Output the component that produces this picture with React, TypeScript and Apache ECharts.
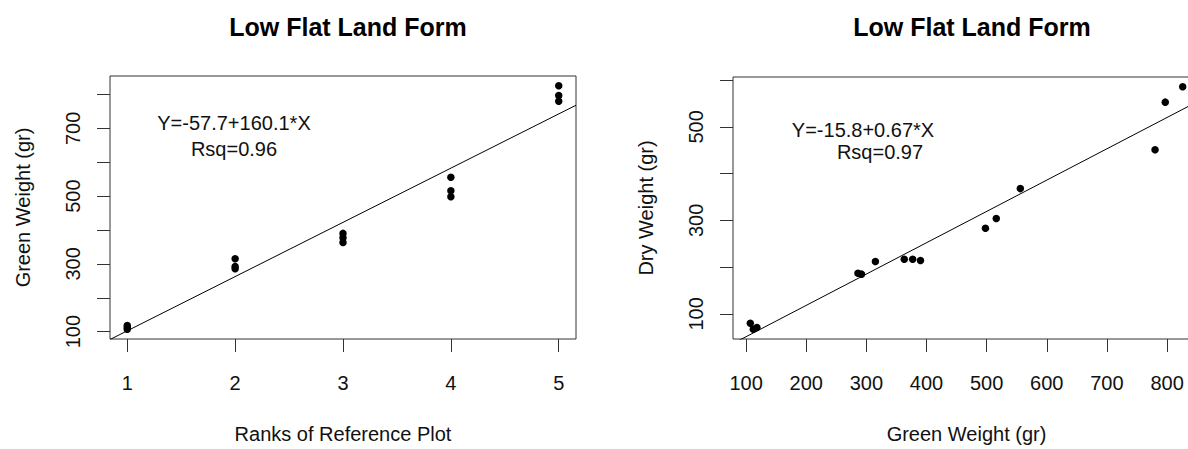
import React, { useEffect, useRef } from "react";
import * as echarts from "echarts";

// ---- data ----
const ranks = [1, 1, 1, 2, 2, 2, 3, 3, 3, 4, 4, 4, 5, 5, 5];
const greenWeight = [107, 112, 118, 286, 292, 315, 363, 377, 390, 498, 516, 556, 780, 797, 826];
const dryWeight = [80, 67, 71, 187, 185, 212, 217, 217, 214, 283, 304, 368, 451, 553, 586];

const fitLeft = { intercept: -57.7, slope: 160.1, rsq: 0.96 };
const fitRight = { intercept: -15.8, slope: 0.67, rsq: 0.97 };

const rankTicks = [1, 2, 3, 4, 5];
const greenTicks = [100, 200, 300, 400, 500, 600, 700, 800];
const greenYLabels = [100, 300, 500, 700];
const dryTicks = [100, 200, 300, 400, 500, 600];
const dryLabels = [100, 300, 500];

const titleText = "Low Flat Land Form";
const FONT = "Liberation Sans, Arial, Helvetica, sans-serif";

function ext(arr: number[]): [number, number] {
  const lo = Math.min(...arr);
  const hi = Math.max(...arr);
  const d = (hi - lo) * 0.04;
  return [lo - d, hi + d];
}

export default function App() {
  const ref = useRef<HTMLDivElement>(null);
  useEffect(() => {
    if (!ref.current) return;
    const chart = echarts.init(ref.current, null, { renderer: "svg" });
    const [x1min, x1max] = ext(ranks);
    const [y1min, y1max] = ext(greenWeight);
    const [x2min, x2max] = ext(greenWeight);
    const [y2min, y2max] = ext(dryWeight);

    const tickStyle = { show: true, inside: false, length: 13, lineStyle: { color: "#333", width: 1 } };
    const labelBase = { color: "#111", fontSize: 20, fontFamily: FONT };
    const titleStyle = { fontSize: 25, fontWeight: "bold", color: "#000", fontFamily: FONT, lineHeight: 25 };

    const option: any = {
      animation: false,
      backgroundColor: "#fff",
      title: [
        { text: titleText, left: 343, top: 9, textAlign: "center", textStyle: titleStyle },
        { text: titleText, left: 967, top: 9, textAlign: "center", textStyle: titleStyle },
      ],
      grid: [
        { left: 110, top: 76, width: 466, height: 271, show: true, borderColor: "#333", borderWidth: 1, backgroundColor: "transparent" },
        { left: 733, top: 77, width: 467, height: 270, show: true, borderColor: "#333", borderWidth: 1, backgroundColor: "transparent" },
      ],
      xAxis: [
        {
          type: "value",
          gridIndex: 0,
          min: x1min,
          max: x1max,
          name: "Ranks of Reference Plot",
          nameLocation: "middle",
          nameGap: 85,
          nameTextStyle: { ...labelBase, lineHeight: 20 },
          axisLine: { show: false },
          axisTick: { ...tickStyle, customValues: rankTicks },
          axisLabel: { ...labelBase, margin: 34, lineHeight: 20, customValues: rankTicks },
          splitLine: { show: false },
        },
        {
          type: "value",
          gridIndex: 1,
          min: x2min,
          max: x2max,
          name: "Green Weight (gr)",
          nameLocation: "middle",
          nameGap: 85,
          nameTextStyle: { ...labelBase, lineHeight: 20 },
          axisLine: { show: false },
          axisTick: { ...tickStyle, customValues: greenTicks },
          axisLabel: { ...labelBase, margin: 34, lineHeight: 20, customValues: greenTicks },
          splitLine: { show: false },
        },
      ],
      yAxis: [
        {
          type: "value",
          gridIndex: 0,
          min: y1min,
          max: y1max,
          name: "Green Weight (gr)",
          nameLocation: "middle",
          nameGap: 77,
          nameRotate: 90,
          nameTextStyle: { ...labelBase, lineHeight: 20 },
          axisLine: { show: false },
          axisTick: { ...tickStyle, customValues: greenTicks },
          axisLabel: { ...labelBase, margin: 27, rotate: 90, lineHeight: 20, customValues: greenYLabels },
          splitLine: { show: false },
        },
        {
          type: "value",
          gridIndex: 1,
          min: y2min,
          max: y2max,
          name: "Dry Weight (gr)",
          nameLocation: "middle",
          nameGap: 77,
          nameRotate: 90,
          nameTextStyle: { ...labelBase, lineHeight: 20 },
          axisLine: { show: false },
          axisTick: { ...tickStyle, customValues: dryTicks },
          axisLabel: { ...labelBase, margin: 27, rotate: 90, lineHeight: 20, customValues: dryLabels },
          splitLine: { show: false },
        },
      ],
      series: [
        {
          type: "scatter",
          xAxisIndex: 0,
          yAxisIndex: 0,
          symbolSize: 7.5,
          itemStyle: { color: "#000", opacity: 1 },
          data: ranks.map((r, i) => [r, greenWeight[i]]),
        },
        {
          type: "line",
          xAxisIndex: 0,
          yAxisIndex: 0,
          showSymbol: false,
          clip: true,
          lineStyle: { color: "#000", width: 1 },
          data: [x1min, x1max].map((x) => [x, fitLeft.intercept + fitLeft.slope * x]),
        },
        {
          type: "scatter",
          xAxisIndex: 1,
          yAxisIndex: 1,
          symbolSize: 7.5,
          itemStyle: { color: "#000", opacity: 1 },
          data: greenWeight.map((g, i) => [g, dryWeight[i]]),
        },
        {
          type: "line",
          xAxisIndex: 1,
          yAxisIndex: 1,
          showSymbol: false,
          clip: true,
          lineStyle: { color: "#000", width: 1 },
          data: [x2min, x2max].map((x) => [x, fitRight.intercept + fitRight.slope * x]),
        },
      ],
      graphic: [
        {
          type: "text",
          x: 234,
          y: 123,
          style: {
            text: `Y=${fitLeft.intercept}+${fitLeft.slope}*X`,
            fill: "#111",
            font: `20px ${FONT}`,
            textAlign: "center",
            textVerticalAlign: "middle",
          },
        },
        {
          type: "text",
          x: 234,
          y: 149,
          style: {
            text: `Rsq=${fitLeft.rsq}`,
            fill: "#111",
            font: `20px ${FONT}`,
            textAlign: "center",
            textVerticalAlign: "middle",
          },
        },
        {
          type: "text",
          x: 863,
          y: 130,
          style: {
            text: `Y=${fitRight.intercept}+${fitRight.slope}*X`,
            fill: "#111",
            font: `20px ${FONT}`,
            textAlign: "center",
            textVerticalAlign: "middle",
          },
        },
        {
          type: "text",
          x: 880,
          y: 152,
          style: {
            text: `Rsq=${fitRight.rsq}`,
            fill: "#111",
            font: `20px ${FONT}`,
            textAlign: "center",
            textVerticalAlign: "middle",
          },
        },
      ],
    };
    chart.setOption(option);
    return () => chart.dispose();
  }, []);

  return (
    <div style={{ position: "absolute", left: 0, top: 0, width: 1188, height: 449, overflow: "hidden", background: "#fff" }}>
      <div ref={ref} style={{ width: 1215, height: 449 }} />
    </div>
  );
}
